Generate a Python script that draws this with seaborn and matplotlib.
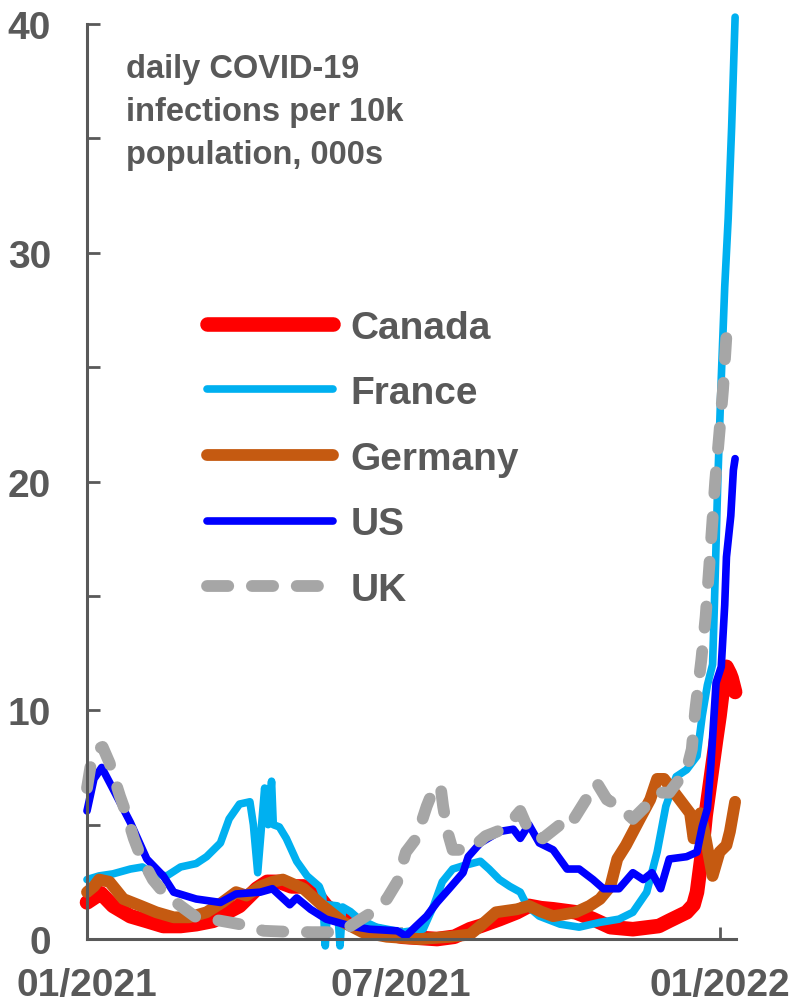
import pandas as pd
import matplotlib.pyplot as plt
import matplotlib.dates as mdates
import seaborn as sns

inicio = pd.Timestamp('2021-01-01')

# days since 01/01/2021 and daily infections per 10k
canada_dias = [0, 4, 8, 15, 25, 34, 44, 54, 63, 73, 81, 88, 98, 104, 111, 118, 125, 130, 138, 148,
               156, 163, 172, 182, 192, 202, 212, 221, 227, 238, 248, 255, 262, 269, 282, 292, 302,
               315, 330, 336, 346, 350, 352, 354.5, 357, 359, 361, 363, 365, 367, 369, 371, 372, 374]
canada_vals = [1.6, 1.8, 2.0, 1.45, 1.0, 0.8, 0.57, 0.57, 0.65, 0.8, 1.17, 1.45, 2.2, 2.5, 2.5, 2.3,
               2.3, 2.2, 1.45, 0.87, 0.6, 0.43, 0.25, 0.1, 0.05, 0.0, 0.1, 0.43, 0.57, 0.87, 1.17,
               1.45, 1.35, 1.3, 1.17, 0.87, 0.52, 0.43, 0.57, 0.8, 1.17, 1.5, 2.05, 3.5, 5.4, 6.5,
               7.6, 8.7, 9.75, 11.0, 11.9, 11.6, 11.4, 10.8]

franca_dias = [0, 7, 15, 25, 32, 38, 46, 54, 63, 69, 77, 82, 88, 94, 96, 98.5, 102.5, 104.5, 106.5,
               107.5, 111, 115, 121, 127, 134, 136, 137.5, 139, 144.5, 146, 147.5, 152, 157, 167,
               182, 194, 200, 205, 211, 217, 227, 232, 238, 244, 250, 254, 261, 273, 284, 296, 307,
               315, 323, 329, 334, 340, 346, 352, 355, 358, 361, 362, 364, 366, 368, 370, 372, 374]
franca_vals = [2.6, 2.76, 2.85, 3.06, 3.15, 2.85, 2.76, 3.15, 3.3, 3.6, 4.2, 5.25, 5.9, 6.0, 5.0,
               2.9, 6.6, 5.0, 6.9, 5.0, 4.9, 4.4, 3.4, 2.76, 2.3, 1.9, -0.3, 1.5, 1.45, -0.3, 1.4,
               1.2, 0.87, 0.52, 0.3, 0.43, 1.45, 2.5, 3.06, 3.2, 3.4, 3.06, 2.6, 2.3, 2.05, 1.45,
               1.0, 0.65, 0.52, 0.73, 0.87, 1.17, 2.05, 3.8, 5.8, 7.1, 7.4, 8.0, 9.75, 11.1, 12.0,
               14.5, 20.0, 24.5, 28.5, 31.5, 35.5, 40.3]

alemanha_dias = [0, 4, 7, 13, 21, 31, 40, 50, 59, 69, 78, 86, 92, 100, 107, 113, 119, 125, 136, 148,
                 159, 173, 192, 210, 221, 227, 236, 248, 255, 262, 269, 282, 290, 296, 302, 306, 311,
                 319, 325, 329, 333, 336, 342, 348, 350, 354, 357, 361, 365, 369, 371, 374]
alemanha_vals = [2.05, 2.3, 2.6, 2.5, 1.75, 1.45, 1.17, 0.95, 0.95, 1.17, 1.6, 2.05, 1.9, 2.3, 2.5,
                 2.6, 2.4, 2.2, 1.45, 0.73, 0.3, 0.1, 0.0, 0.1, 0.2, 0.57, 1.17, 1.3, 1.45, 1.2, 1.0,
                 1.17, 1.45, 1.75, 2.3, 3.5, 4.1, 5.25, 6.1, 7.0, 7.0, 6.7, 6.1, 5.5, 4.4, 5.5, 4.4,
                 2.76, 3.8, 4.1, 4.7, 6.0]

eua_dias = [0, 4, 8.5, 15, 25, 34.5, 44, 50, 63, 77, 86, 100, 107, 117, 121, 129, 138, 152, 163,
            179, 184, 190, 196, 202, 209, 217, 220, 227, 238, 246, 250, 255, 261, 269, 277, 284,
            292, 298, 307, 315, 321, 326, 331, 336, 346, 352, 355, 358, 360, 363, 366, 368, 369,
            371.5, 373, 374]
eua_vals = [5.6, 7.0, 7.5, 6.56, 5.1, 3.5, 2.76, 2.05, 1.75, 1.6, 1.97, 2.05, 2.2, 1.5, 1.8, 1.3,
            0.87, 0.57, 0.43, 0.36, 0.13, 0.57, 1.0, 1.6, 2.2, 2.9, 3.6, 4.2, 4.7, 4.8, 4.4, 5.0,
            4.2, 3.9, 3.06, 3.06, 2.6, 2.2, 2.2, 2.9, 2.6, 2.9, 2.2, 3.5, 3.6, 3.8, 4.9, 5.7, 7.6,
            11.2, 11.9, 14.6, 16.7, 18.5, 20.5, 21.0]

uk_dias = [0, 3, 6, 9, 13, 19, 23, 27, 31, 38, 44, 54, 63, 77, 88, 102, 115, 130, 145, 152, 163,
           173, 179, 184, 190, 196, 200, 204, 205.5, 208, 211, 221, 230, 240, 246, 250, 254, 257,
           263, 273, 277, 281, 288, 294, 300, 307, 315, 321, 330, 336, 346, 349, 351, 354.5, 357,
           359, 362.5, 365, 367, 369, 371, 373]
uk_vals = [6.6, 8.0, 8.3, 8.4, 7.7, 6.25, 5.4, 4.4, 3.6, 2.6, 2.05, 1.45, 0.95, 0.8, 0.65, 0.36,
           0.32, 0.3, 0.3, 0.57, 1.1, 1.75, 2.5, 3.8, 4.4, 5.8, 6.56, 6.7, 5.8, 4.7, 3.9, 3.9, 4.5,
           4.8, 5.25, 5.6, 4.9, 4.5, 4.4, 5.0, 4.8, 5.25, 6.1, 6.85, 6.1, 5.8, 5.25, 5.7, 6.4, 6.4,
           7.4, 8.3, 10.0, 12.2, 14.1, 16.2, 20.0, 22.2, 24.0, 26.4, 26.1, 25.9]

paises = ['Canada', 'France', 'Germany', 'US', 'UK']
dados = {
    'Canada': (canada_dias, canada_vals),
    'France': (franca_dias, franca_vals),
    'Germany': (alemanha_dias, alemanha_vals),
    'US': (eua_dias, eua_vals),
    'UK': (uk_dias, uk_vals),
}

partes = []
for pais in paises:
    dias, vals = dados[pais]
    partes.append(pd.DataFrame({
        'Data': inicio + pd.to_timedelta(dias, unit='D'),
        'Valor': vals,
        'Pais': pais,
    }))
df = pd.concat(partes, ignore_index=True)

estilos = {
    'Canada': dict(color='#FF0000', linewidth=10.5),
    'France': dict(color='#00B0F0', linewidth=5.5),
    'Germany': dict(color='#C55A11', linewidth=8.5),
    'US': dict(color='#0000FF', linewidth=5.5),
    'UK': dict(color='#A6A6A6', linewidth=8.5, linestyle=(0, (1.8, 2.0)), dash_capstyle='round'),
}

cinza = '#595959'

sns.set_style('white')
plt.rcParams['font.family'] = ['Liberation Sans', 'DejaVu Sans']
plt.rcParams['font.weight'] = 'bold'

fig = plt.figure(figsize=(7.96, 10.04), dpi=100)
ax = fig.add_axes([0.1093, 0.0637, 0.8153, 0.9114])

for pais in paises:
    sns.lineplot(data=df[df['Pais'] == pais], x='Data', y='Valor', ax=ax, label=pais,
                 estimator=None, sort=False, solid_capstyle='round', clip_on=False,
                 **estilos[pais])

ax.set_xlim(inicio, inicio + pd.Timedelta(days=374.5))
ax.set_ylim(0, 40)
ax.set_xlabel('')
ax.set_ylabel('')

ax.set_yticks(range(0, 41, 5))
ax.set_yticklabels(['0', '', '10', '', '20', '', '30', '', '40'])
ax.set_xticks([pd.Timestamp('2021-01-01'), pd.Timestamp('2021-07-01'), pd.Timestamp('2022-01-01')])
ax.xaxis.set_major_formatter(mdates.DateFormatter('%m/%Y'))

ax.tick_params(axis='both', direction='in', length=9, width=2, color=cinza,
               labelsize=28, labelcolor=cinza)
ax.tick_params(axis='y', pad=26, left=True)
ax.tick_params(axis='x', pad=20, bottom=True)

for lado in ['top', 'right']:
    ax.spines[lado].set_visible(False)
for lado in ['left', 'bottom']:
    ax.spines[lado].set_color(cinza)
    ax.spines[lado].set_linewidth(2.2)

ax.text(0.06, 0.968, 'daily COVID-19\ninfections per 10k\npopulation, 000s',
        transform=ax.transAxes, ha='left', va='top', fontsize=23.5, color=cinza,
        fontweight='bold', linespacing=1.5)

leg = ax.legend(loc='center left', bbox_to_anchor=(0.185, 0.525), frameon=False, fontsize=28,
                handlelength=3.24, handletextpad=0.44, labelspacing=0.76, borderpad=0,
                borderaxespad=0)
for t in leg.get_texts():
    t.set_color(cinza)
    t.set_fontweight('bold')

plt.savefig('out.png', dpi=100)
